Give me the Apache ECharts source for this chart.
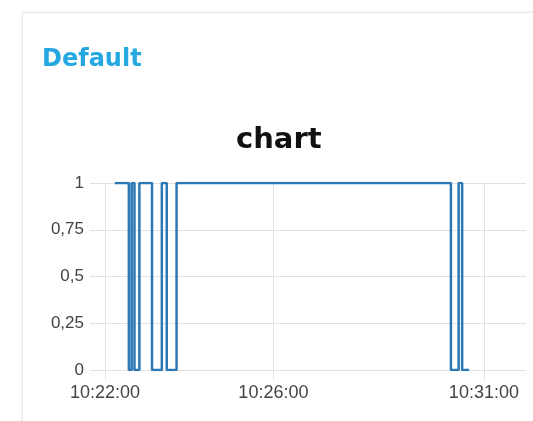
<!DOCTYPE html>
<html>
<head>
<meta charset="utf-8">
<script src="https://cdn.jsdelivr.net/npm/echarts@6/dist/echarts.min.js"></script>
<style>
	html, body { margin: 0; padding: 0; background: #fff; }
	#panel {
		position: absolute; left: 22px; top: 12px; width: 600px; height: 500px;
		border: 1px solid #e8e8e8; box-shadow: 0 0 3px rgba(0,0,0,0.08);
	}
	#main { position: absolute; left: 0; top: 0; width: 533px; height: 421px; }
</style>
</head>
<body>
<div id="panel"></div>
<div id="main"></div>
<script>
// change times (value holds until the next one)
var times = ['10:22:14', '10:22:34', '10:22:38', '10:22:42', '10:22:49', '10:23:07', '10:23:21',
	'10:23:28', '10:23:42', '10:30:13', '10:30:24', '10:30:29', '10:30:39'];
var values = [1, 0, 1, 0, 1, 0, 1, 0, 1, 0, 1, 0, 0];

var xMin = '10:22:00';
var xMax = '10:32:00';
var xTicks = ['10:22:00', '10:26:00', '10:31:00'];

// seconds since midnight
function sec(t) {
	var a = t.split(':');
	return (+a[0]) * 3600 + (+a[1]) * 60 + (+a[2]);
}
function p(s) {
	return s < 10 ? '0' + s : s;
}
function fmt(v) {
	var h = Math.floor(v / 3600);
	var m = Math.floor((v % 3600) / 60);
	var s = Math.round(v % 60);
	return p(h) + ':' + p(m) + ':' + p(s);
}

var seriesData = [];
for (var i = 0; i < times.length; i++) {
	seriesData.push([sec(times[i]), values[i]]);
}
var tickValues = xTicks.map(sec);

var chart = echarts.init(document.getElementById('main'));

var option = {
	animation: false,
	title: [{
		text: 'Default',
		left: 42,
		top: 48,
		padding: 0,
		textStyle: { fontFamily: 'DejaVu Sans', fontWeight: 'bold', fontSize: 24, color: '#25a7e2' }
	}, {
		text: 'chart',
		left: 236,
		top: 126,
		padding: 0,
		textStyle: { fontFamily: 'DejaVu Sans', fontWeight: 'bold', fontSize: 29, color: '#111' }
	}],
	grid: {
		left: 105,
		right: 7,
		top: 183,
		bottom: 51
	},
	xAxis: {
		type: 'value',
		min: sec(xMin),
		max: sec(xMax),
		axisLine: { show: false },
		axisTick: {
			show: true,
			length: 10,
			customValues: tickValues,
			lineStyle: { color: '#e2e2e2' }
		},
		axisLabel: {
			customValues: tickValues,
			margin: 14,
			fontFamily: 'Liberation Sans',
			fontSize: 18,
			color: '#444',
			formatter: fmt
		},
		splitLine: {
			show: true,
			lineStyle: { color: '#e2e2e2' }
		}
	},
	yAxis: {
		type: 'value',
		min: 0,
		max: 1,
		interval: 0.25,
		axisLine: { show: false },
		axisTick: {
			show: true,
			length: 15,
			lineStyle: { color: '#e2e2e2' }
		},
		axisLabel: {
			margin: 21,
			fontFamily: 'Liberation Sans',
			fontSize: 17,
			color: '#444',
			formatter: function (v) {
				return String(v).replace('.', ',');
			}
		},
		splitLine: {
			lineStyle: { color: '#e2e2e2' }
		}
	},
	series: [{
		type: 'line',
		step: 'end',
		showSymbol: false,
		data: seriesData,
		lineStyle: { color: '#2c77b4', width: 2.5 }
	}]
};

chart.setOption(option);
</script>
</body>
</html>
